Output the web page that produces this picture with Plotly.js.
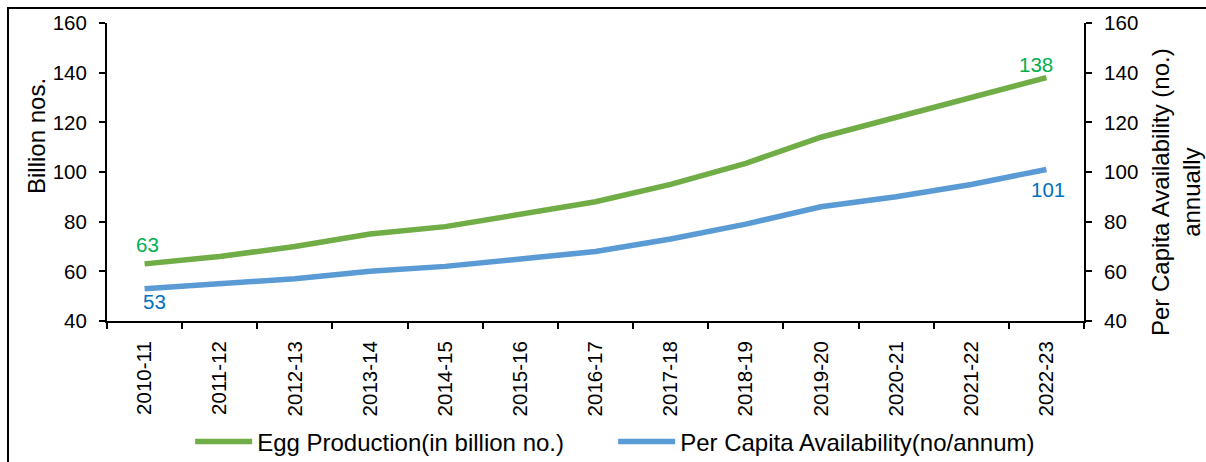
<!DOCTYPE html>
<html>
<head>
<meta charset="utf-8">
<script src="https://cdn.plot.ly/plotly-3.0.1.min.js"></script>
<style>
  html, body { margin: 0; padding: 0; background: #fff; overflow: hidden; }
  #chart { position: absolute; left: 0; top: 0; width: 1206px; height: 462px; }
  #frame { position: absolute; left: 7px; top: 7px; width: 1300px; height: 600px;
           border: 2px solid #000; pointer-events: none; }
</style>
</head>
<body>
<div id="chart"></div>
<div id="frame"></div>
<script>
// Egg production and per-capita availability in India, 2010-11 to 2022-23
const years = ["2010-11", "2011-12", "2012-13", "2013-14", "2014-15", "2015-16", "2016-17",
               "2017-18", "2018-19", "2019-20", "2020-21", "2021-22", "2022-23"];
const eggProduction = [63, 66, 70, 75, 78, 83, 88, 95, 103.5, 114, 122, 130, 138];
const perCapita = [53, 55, 57, 60, 62, 65, 68, 73, 79, 86, 90, 95, 101];

const seriesNames = ["Egg Production(in billion no.)", "Per Capita Availability(no/annum)"];
const leftTitle = "Billion nos.";
const rightTitle = "Per Capita Availability (no.)<br>annually";

const FONT = "Liberation Sans, Arial, sans-serif";
const GREEN = "#70AD47", BLUE = "#5B9BD5";
const GREEN_TXT = "#00B050", BLUE_TXT = "#0070C0";

const traces = [
  { x: years, y: eggProduction, name: seriesNames[0], type: "scatter", mode: "lines",
    line: { color: GREEN, width: 5.5 }, yaxis: "y", hoverinfo: "x+y" },
  { x: years, y: perCapita, name: seriesNames[1], type: "scatter", mode: "lines",
    line: { color: BLUE, width: 5.5 }, yaxis: "y2", hoverinfo: "x+y" }
];

// value labels on the first and last points of each series
const last = years.length - 1;
const labelFont = (c) => ({ color: c, size: 20.5, family: FONT });
const annotations = [
  { x: years[0], y: eggProduction[0], yref: "y", text: String(eggProduction[0]),
    font: labelFont(GREEN_TXT), showarrow: false, xshift: 3, yshift: 19 },
  { x: years[0], y: perCapita[0], yref: "y2", text: String(perCapita[0]),
    font: labelFont(BLUE_TXT), showarrow: false, xshift: 10, yshift: -13 },
  { x: years[last], y: eggProduction[last], yref: "y", text: String(eggProduction[last]),
    font: labelFont(GREEN_TXT), showarrow: false, xshift: -10, yshift: 13 },
  { x: years[last], y: perCapita[last], yref: "y2", text: String(perCapita[last]),
    font: labelFont(BLUE_TXT), showarrow: false, xshift: 2, yshift: -20 },
  // axis titles, placed beside the tick labels
  { xref: "paper", yref: "paper", x: -0.0716, y: 0.621, text: leftTitle, textangle: -90,
    showarrow: false, xanchor: "center", yanchor: "middle",
    font: { size: 24, family: FONT, color: "#000" } },
  { xref: "paper", yref: "paper", x: 1.0942, y: 0.433, text: rightTitle, textangle: -90,
    showarrow: false, xanchor: "center", yanchor: "middle",
    font: { size: 24, family: FONT, color: "#000" } }
];

const axisCommon = {
  range: [40, 160], dtick: 20, showgrid: false, zeroline: false,
  showline: true, linecolor: "#000", linewidth: 2,
  ticks: "outside", ticklen: 6, tickwidth: 2, tickcolor: "#000",
  tickfont: { size: 20.5, family: FONT, color: "#000" }
};

const layout = {
  width: 1206, height: 462,
  margin: { l: 107, r: 122, t: 23, b: 141, autoexpand: false },
  paper_bgcolor: "#fff", plot_bgcolor: "#fff",
  font: { family: FONT, color: "#000" },
  showlegend: true,
  legend: {
    orientation: "h", x: 0.0851, xanchor: "left", y: -0.406, yanchor: "middle",
    font: { size: 24, family: FONT, color: "#000" },
    itemwidth: 57, entrywidth: 351, entrywidthmode: "pixels"
  },
  xaxis: {
    type: "category", range: [-0.5, 12.5], showgrid: false, zeroline: false,
    showline: true, linecolor: "#000", linewidth: 2,
    ticks: "outside", ticklen: 6, tickwidth: 2, tickcolor: "#000", tickson: "boundaries",
    tickangle: -90, ticklabelstandoff: 10, tickfont: { size: 20.5, family: FONT, color: "#000" }
  },
  yaxis: Object.assign({}, axisCommon, { side: "left", ticklabelstandoff: 8 }),
  yaxis2: Object.assign({}, axisCommon, { side: "right", overlaying: "y", ticklabelstandoff: 8 }),
  annotations: annotations
};

Plotly.newPlot("chart", traces, layout, { displayModeBar: false, staticPlot: true });
</script>
</body>
</html>
